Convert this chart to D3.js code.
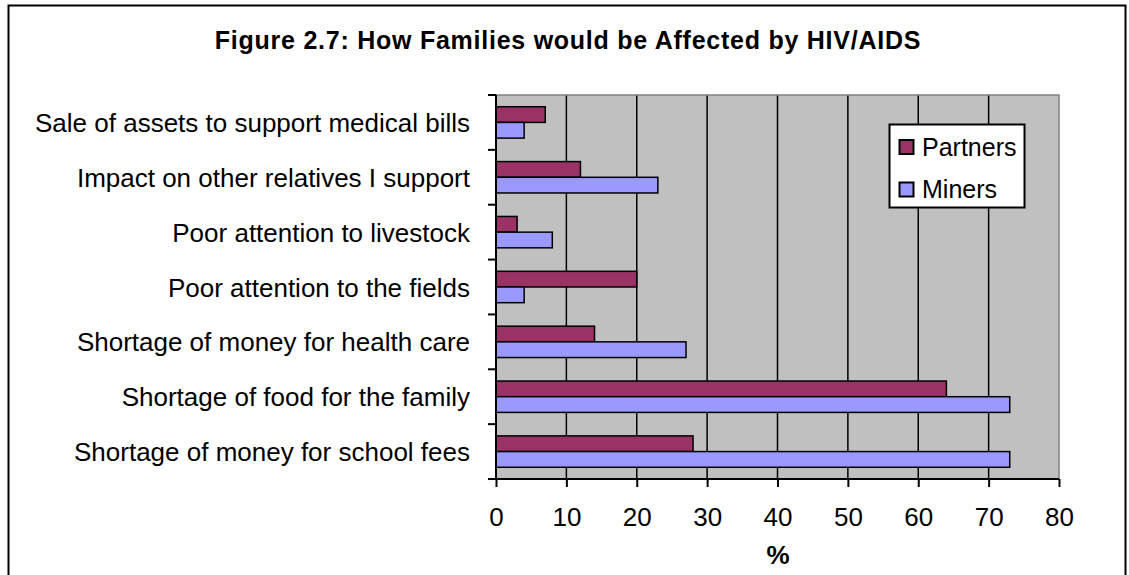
<!DOCTYPE html>
<html>
<head>
<meta charset="utf-8">
<script src="https://cdn.jsdelivr.net/npm/d3@7"></script>
<style>
  html, body { margin: 0; padding: 0; background: #fff; }
  svg { display: block; }
  text { font-family: Arial, "Liberation Sans", sans-serif; fill: #000; }
</style>
</head>
<body>
<svg id="chart" width="1129" height="575"></svg>
<script>
const title = "Figure 2.7: How Families would be Affected by HIV/AIDS";
const categories = [
  "Sale of assets to support medical bills",
  "Impact on other relatives I support",
  "Poor attention to livestock",
  "Poor attention to the fields",
  "Shortage of money for health care",
  "Shortage of food for the family",
  "Shortage of money for school fees"
];
const seriesNames = ["Partners", "Miners"];
const partners = [7, 12, 3, 20, 14, 64, 28];
const miners = [4, 23, 8, 4, 27, 73, 73];
const xTicks = [0, 10, 20, 30, 40, 50, 60, 70, 80];
const xLabel = "%";

const colors = { Partners: "#993366", Miners: "#9999FF" };
const series = [
  { name: seriesNames[0], values: partners },
  { name: seriesNames[1], values: miners }
];

const svg = d3.select("#chart");
const plot = { left: 496, right: 1059, top: 95, bottom: 479 };

// outer border
svg.append("rect")
  .attr("x", 8.5).attr("y", 5.5)
  .attr("width", 1117).attr("height", 600)
  .attr("fill", "#fff").attr("stroke", "#000").attr("stroke-width", 2);

// title
svg.append("text")
  .attr("x", 568).attr("y", 49)
  .attr("text-anchor", "middle")
  .attr("font-size", 25).attr("font-weight", "bold")
  .attr("letter-spacing", 0.75)
  .text(title);

const x = d3.scaleLinear().domain([0, 80]).range([plot.left, plot.right]);
const y = d3.scaleBand().domain(categories).range([plot.top, plot.bottom]).padding(0);
const bw = y.bandwidth();
const bh = bw * 0.286;

// plot background
svg.append("rect")
  .attr("x", plot.left).attr("y", plot.top)
  .attr("width", plot.right - plot.left).attr("height", plot.bottom - plot.top)
  .attr("fill", "#C0C0C0");

// gridlines
svg.append("g").selectAll("line")
  .data(xTicks.filter(d => d > 0 && d < 80))
  .join("line")
  .attr("x1", d => x(d)).attr("x2", d => x(d))
  .attr("y1", plot.top).attr("y2", plot.bottom)
  .attr("stroke", "#000").attr("stroke-width", 1.5);

// plot border top/right (gray)
svg.append("path")
  .attr("d", `M${plot.left},${plot.top}H${plot.right}V${plot.bottom}`)
  .attr("fill", "none").attr("stroke", "#808080").attr("stroke-width", 1.5);

// bars
series.forEach((s, si) => {
  svg.append("g").selectAll("rect")
    .data(categories.map((c, i) => ({ c, v: s.values[i] })))
    .join("rect")
    .attr("x", x(0))
    .attr("y", d => y(d.c) + (bw - 2 * bh) / 2 + si * bh)
    .attr("width", d => x(d.v) - x(0))
    .attr("height", bh)
    .attr("fill", colors[s.name])
    .attr("stroke", "#000").attr("stroke-width", 1.5);
});

// y axis
const yTickPos = categories.map(c => y(c)).concat([plot.bottom]);
const yAxisG = svg.append("g");
yAxisG.append("line")
  .attr("x1", plot.left).attr("x2", plot.left)
  .attr("y1", plot.top).attr("y2", plot.bottom)
  .attr("stroke", "#000").attr("stroke-width", 2);
yAxisG.selectAll("line.tick").data(yTickPos).join("line")
  .attr("class", "tick")
  .attr("x1", plot.left - 8).attr("x2", plot.left)
  .attr("y1", d => d).attr("y2", d => d)
  .attr("stroke", "#000").attr("stroke-width", 2);
yAxisG.selectAll("text").data(categories).join("text")
  .attr("x", 470)
  .attr("y", d => y(d) + bw / 2 + 9.5)
  .attr("text-anchor", "end")
  .attr("font-size", 26)
  .text(d => d);

// x axis
const xAxis = d3.axisBottom(x).tickValues(xTicks).tickSize(8).tickPadding(14).tickFormat(d3.format("d"));
const xg = svg.append("g").attr("transform", `translate(0,${plot.bottom})`).call(xAxis);
xg.select(".domain").attr("stroke", "#000").attr("stroke-width", 2)
  .attr("d", `M${plot.left - 8},0H${plot.right}`);
xg.selectAll(".tick line").attr("stroke", "#000").attr("stroke-width", 2);
xg.selectAll(".tick text")
  .attr("font-size", 26).attr("font-family", "Arial, 'Liberation Sans', sans-serif")
  .attr("fill", "#000").attr("dy", null).attr("y", 47);

svg.append("text")
  .attr("x", 778).attr("y", 564)
  .attr("text-anchor", "middle")
  .attr("font-size", 26).attr("font-weight", "bold")
  .text(xLabel);

// legend
const lg = svg.append("g");
lg.append("rect")
  .attr("x", 889.5).attr("y", 124.5).attr("width", 135).attr("height", 83)
  .attr("fill", "#fff").attr("stroke", "#000").attr("stroke-width", 2);
const legRows = lg.selectAll("g").data(seriesNames).join("g")
  .attr("transform", (d, i) => `translate(0,${140 + i * 42.5})`);
legRows.append("rect")
  .attr("x", 899.5).attr("y", 0).attr("width", 14).attr("height", 14)
  .attr("fill", d => colors[d]).attr("stroke", "#000").attr("stroke-width", 2);
legRows.append("text")
  .attr("x", 922).attr("y", 15.5)
  .attr("font-size", 25)
  .text(d => d);
</script>
</body>
</html>
